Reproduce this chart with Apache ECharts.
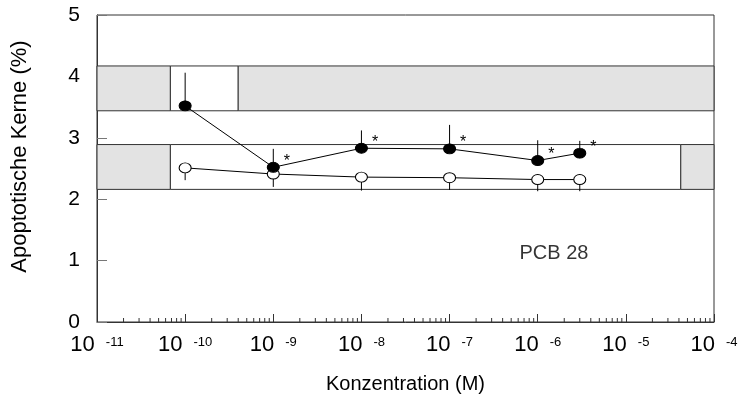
<!DOCTYPE html>
<html><head><meta charset="utf-8">
<script src="https://cdn.jsdelivr.net/npm/echarts@6/dist/echarts.min.js"></script>
<style>html,body{margin:0;padding:0;background:#fff}#c{width:738px;height:405px}</style>
</head><body><div id="c"></div>
<script>
// Data (concentrations in M, values in %)
const concentrations = [1e-10, 1e-9, 1e-8, 1e-7, 1e-6, 3e-6];
const pcbMean = [3.52, 2.52, 2.83, 2.82, 2.63, 2.75];
const pcbErrTop = [4.06, 2.82, 3.12, 3.21, 2.96, 2.95];
const ctrlMean = [2.51, 2.41, 2.36, 2.35, 2.32, 2.32];
const ctrlErrBottom = [2.31, 2.20, 2.14, 2.15, 2.13, 2.13];
const significance = ['', '*', '*', '*', '*', '*'];
const xExpMin = -11, xExpMax = -4;
const yTicks = [0, 1, 2, 3, 4, 5];
const upperBand = [3.44, 4.17];
const lowerBand = [2.16, 2.89];
const upperWhite = [6.8e-11, 4e-10];
const lowerWhite = [6.8e-11, 4.2e-5];
const annotation = {text: 'PCB 28', x: 1.53e-6, y: 1.11};

const L = Math.log10;
const gray = '#e3e3e3', lineC = '#333';
const FF = 'Liberation Sans';
const pcbPts = concentrations.map((c, i) => ({value: [L(c), pcbMean[i]], label: {formatter: significance[i] || ' '}}));
const ctrlPts = concentrations.map((c, i) => [L(c), ctrlMean[i]]);
const errs = concentrations.map((c, i) => [L(c), pcbMean[i], pcbErrTop[i]])
  .concat(concentrations.map((c, i) => [L(c), ctrlMean[i], ctrlErrBottom[i]]));
const minor = [];
for (let e = xExpMin; e < xExpMax; e++) for (let k = 2; k <= 9; k++) minor.push([L(k * Math.pow(10, e)), 0]);

const bandBox = (x0, x1, y0, y1, fill) => [{xAxis: x0, yAxis: y0, itemStyle: {color: fill, borderColor: lineC, borderWidth: 1}}, {xAxis: x1, yAxis: y1}];

const chart = echarts.init(document.getElementById('c'));
chart.setOption({
  animation: false,
  grid: {left: 97, right: 24, top: 15, bottom: 83, outerBoundsMode: 'none', containLabel: false,
    show: true, borderColor: lineC, borderWidth: 1, backgroundColor: 'transparent'},
  xAxis: {
    type: 'value', min: xExpMin, max: xExpMax, interval: 1,
    name: 'Konzentration (M)', nameLocation: 'middle', nameGap: 52,
    nameTextStyle: {fontFamily: FF, fontSize: 20, color: '#000'},
    axisLine: {lineStyle: {color: lineC}},
    axisTick: {inside: true, length: 8, lineStyle: {color: lineC}},
    splitLine: {show: false},
    axisLabel: {
      margin: 12, hideOverlap: false,
      formatter: v => '{b|10}{s|' + v + '}',
      rich: {
        b: {fontFamily: FF, fontSize: 22, lineHeight: 22, color: '#000', padding: [0, 11, 0, 0], verticalAlign: 'top'},
        s: {fontFamily: FF, fontSize: 13, lineHeight: 14, color: '#000', padding: [2, 0, 0, 0], verticalAlign: 'top'}
      }
    }
  },
  yAxis: {
    type: 'value', min: 0, max: 5, interval: 1,
    name: 'Apoptotische Kerne (%)', nameLocation: 'middle', nameGap: 66, nameRotate: 90,
    nameTextStyle: {fontFamily: FF, fontSize: 22, color: '#000', padding: [0, 0, 0, 24]},
    axisLine: {show: true, lineStyle: {color: lineC}},
    axisTick: {show: true, inside: true, length: 10, lineStyle: {color: '#777'}},
    splitLine: {show: false},
    axisLabel: {margin: 17, fontFamily: FF, fontSize: 21, color: '#000',
      formatter: v => yTicks.includes(v) ? String(v) : ''}
  },
  series: [
    {
      type: 'line', data: [], silent: true, z: 1,
      markArea: {silent: true, data: [
        bandBox(xExpMin, L(upperWhite[0]), upperBand[0], upperBand[1], gray),
        bandBox(L(upperWhite[0]), L(upperWhite[1]), upperBand[0], upperBand[1], '#fff'),
        bandBox(L(upperWhite[1]), xExpMax, upperBand[0], upperBand[1], gray),
        bandBox(xExpMin, L(lowerWhite[0]), lowerBand[0], lowerBand[1], gray),
        bandBox(L(lowerWhite[0]), L(lowerWhite[1]), lowerBand[0], lowerBand[1], '#fff'),
        bandBox(L(lowerWhite[1]), xExpMax, lowerBand[0], lowerBand[1], gray)
      ]}
    },
    {
      type: 'custom', z: 3, data: minor, silent: true,
      renderItem: (params, api) => {
        const p = api.coord([api.value(0), 0]);
        return {type: 'line', shape: {x1: p[0], y1: p[1], x2: p[0], y2: p[1] - 4}, style: {stroke: lineC, lineWidth: 1}};
      }
    },
    {
      type: 'custom', z: 4, data: errs, silent: true,
      renderItem: (params, api) => {
        const a = api.coord([api.value(0), api.value(1)]);
        const b = api.coord([api.value(0), api.value(2)]);
        return {type: 'line', shape: {x1: a[0], y1: a[1], x2: b[0], y2: b[1]}, style: {stroke: '#000', lineWidth: 1}};
      }
    },
    {
      type: 'line', z: 5, data: ctrlPts, symbol: 'circle', symbolSize: [12, 10],
      lineStyle: {color: '#000', width: 1},
      itemStyle: {color: '#fff', borderColor: '#000', borderWidth: 1}
    },
    {
      type: 'line', z: 6, data: pcbPts, symbol: 'circle', symbolSize: [12, 10],
      lineStyle: {color: '#000', width: 1},
      itemStyle: {color: '#000', borderColor: '#000', borderWidth: 1},
      label: {show: true, position: 'right', distance: 3, offset: [1, -6], fontFamily: FF, fontSize: 16, color: '#000'}
    },
    {
      type: 'scatter', z: 7, symbolSize: 0, silent: true,
      data: [[L(annotation.x), annotation.y]],
      label: {show: true, position: 'inside', formatter: annotation.text, fontFamily: FF, fontSize: 20, color: '#000'}
    }
  ]
});
</script></body></html>
